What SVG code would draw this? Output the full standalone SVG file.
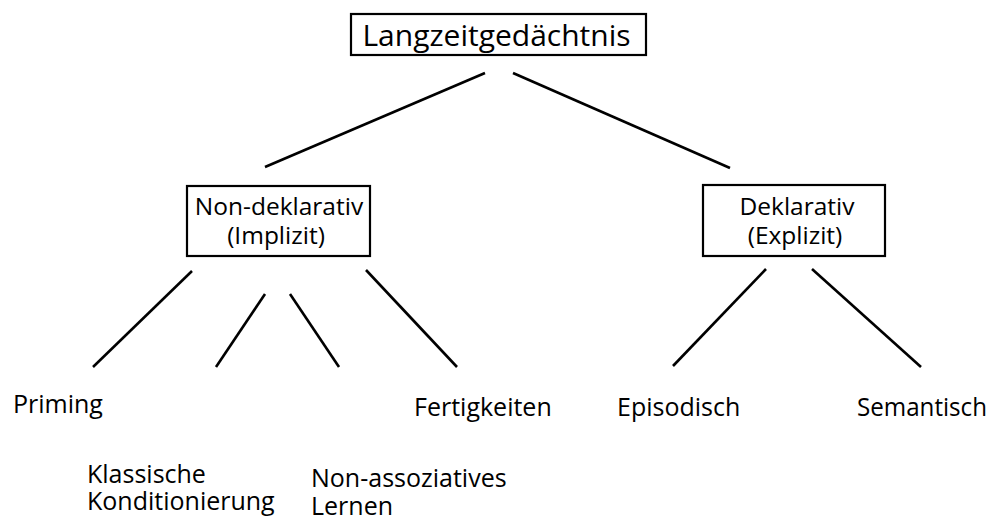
<svg xmlns="http://www.w3.org/2000/svg" width="989" height="518" viewBox="0 0 989 518">
<style>
text{font-family:"Open Sans","Noto Sans",sans-serif;fill:#000}
.b{fill:#fff;stroke:#000;stroke-width:2.2}
.t{font-size:30px;text-anchor:middle}
.m{font-size:24.5px;text-anchor:middle}
.l{font-size:25px}
#connectors line{stroke:#000;stroke-width:2.6}
</style>
<rect width="989" height="518" fill="#fff"/>
<g id="connectors">
<line x1="485" y1="73" x2="265" y2="167"/>
<line x1="513" y1="73" x2="730" y2="168"/>
<line x1="192" y1="271" x2="93" y2="367"/>
<line x1="265" y1="294" x2="216" y2="367"/>
<line x1="290" y1="294" x2="339" y2="367"/>
<line x1="366" y1="270" x2="457" y2="367"/>
<line x1="766" y1="269" x2="673" y2="366"/>
<line x1="812" y1="269" x2="921" y2="367"/>
</g>
<g id="langzeit">
<rect class="b" x="351" y="14" width="295" height="41"/>
<text class="t" x="496.5" y="46">Langzeitgedächtnis</text>
</g>
<g id="nondeklarativ">
<rect class="b" x="187" y="186" width="183" height="70"/>
<text class="m" x="279" y="215">Non-deklarativ</text>
<text class="m" x="276" y="244">(Implizit)</text>
</g>
<g id="deklarativ">
<rect class="b" x="703" y="185" width="182" height="71"/>
<text class="m" x="797" y="215">Deklarativ</text>
<text class="m" x="795" y="244">(Explizit)</text>
</g>
<g id="priming"><text class="l" x="13" y="413">Priming</text></g>
<g id="klassisch"><text class="l" x="87" y="483">Klassische</text><text class="l" x="87" y="510">Konditionierung</text></g>
<g id="nonassoz"><text class="l" x="311" y="487">Non-assoziatives</text><text class="l" x="311" y="515">Lernen</text></g>
<g id="fertigkeiten"><text class="l" x="414" y="416">Fertigkeiten</text></g>
<g id="episodisch"><text class="l" x="617" y="416">Episodisch</text></g>
<g id="semantisch"><text class="l" x="857" y="416" textLength="130" lengthAdjust="spacingAndGlyphs">Semantisch</text></g>
</svg>
